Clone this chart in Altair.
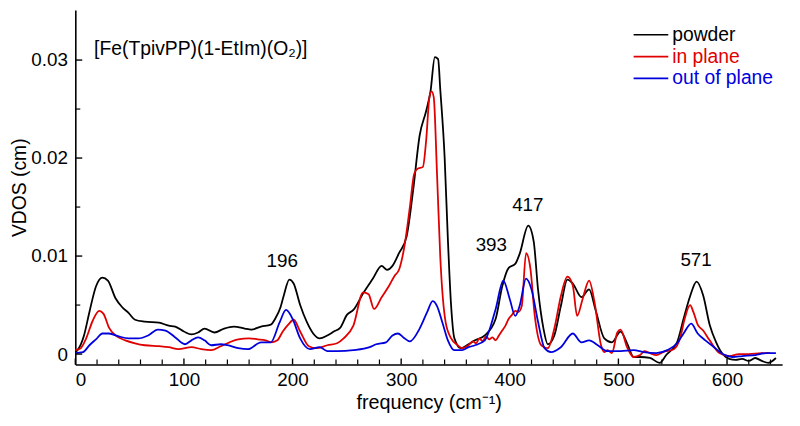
import altair as alt
import pandas as pd

# ---- data ----
powder_f = [0, 2, 8, 13, 19, 25, 30, 37, 43, 49, 55, 64, 77, 86, 92, 100, 107, 113, 119, 128,
            137, 146, 156, 162, 171, 180, 184, 189, 192, 197, 201, 207, 213, 219, 225, 232, 238,
            244, 250, 256, 265, 274, 282, 287, 292, 298, 305, 311, 317, 323, 327, 331, 334, 336,
            340, 343, 346, 349, 355, 362, 368, 377, 387, 393, 399, 405, 409, 417, 422, 426, 431,
            435, 441, 447, 453, 458, 466, 473, 479, 487, 494, 502, 508, 514, 520, 529, 538, 544,
            554, 560, 566, 572, 578, 584, 590, 596, 602, 608, 614, 620, 626, 632, 638, 645]
powder_v = [0.0002, 0.0004, 0.0019, 0.0043, 0.0069, 0.0078, 0.0075, 0.0057, 0.0048, 0.0042,
            0.0035, 0.0033, 0.0032, 0.0029, 0.0028, 0.0023, 0.0020, 0.0022, 0.0026, 0.0022,
            0.0026, 0.0028, 0.0026, 0.0025, 0.0028, 0.0030, 0.0036, 0.0048, 0.0060, 0.0076,
            0.0072, 0.0050, 0.0033, 0.0021, 0.0016, 0.0019, 0.0023, 0.0027, 0.0040, 0.0045,
            0.0062, 0.0077, 0.0090, 0.0086, 0.0090, 0.0103, 0.0120, 0.0167, 0.0223, 0.0248,
            0.0268, 0.0303, 0.0301, 0.0270, 0.0201, 0.0117, 0.0049, 0.0016, 0.0006, 0.0010,
            0.0014, 0.0019, 0.0036, 0.0069, 0.0088, 0.0092, 0.0102, 0.0131, 0.0115, 0.0066,
            0.0026, 0.0010, 0.0019, 0.0049, 0.0076, 0.0072, 0.0058, 0.0066, 0.0045, 0.0016,
            0.0012, 0.0023, 0.0011, -0.0003, -0.0003, -0.0004, -0.0009, -0.0001, 0.0012, 0.0036,
            0.0059, 0.0074, 0.0060, 0.0030, 0.0012, 0.0000, -0.0005, -0.0006, -0.0005, -0.0007,
            -0.0004, -0.0007, -0.0009, -0.0004]

inplane_f = [0, 5, 10, 16, 22, 26, 31, 37, 46, 55, 64, 77, 86, 95, 107, 116, 125, 134, 142, 150,
             160, 168, 175, 181, 186, 191, 196, 201, 207, 215, 222, 232, 241, 247, 256, 265, 270,
             275, 282, 289, 294, 298, 303, 308, 312, 315, 320, 323, 326, 328, 330, 333, 336, 341,
             346, 352, 356, 362, 366, 369, 372, 375, 378, 381, 384, 387, 390, 393, 396, 399, 402,
             405, 408, 411, 415, 419, 423,
             429, 435, 441, 447, 453, 458, 462, 467, 473, 478, 484, 487, 490, 494, 499, 502, 508,
             514, 520, 524, 529, 535, 541, 551, 557, 561, 566, 569, 573, 578, 584, 593, 602, 611,
             620, 632, 640]
inplane_v = [0.0004, 0.0006, 0.0016, 0.0034, 0.0044, 0.0041, 0.0027, 0.0019, 0.0014, 0.0011,
             0.0009, 0.0008, 0.0007, 0.0005, 0.0007, 0.0005, 0.0004, 0.0008, 0.0012, 0.0015,
             0.0016, 0.0015, 0.0014, 0.0012, 0.0014, 0.0023, 0.0030, 0.0035, 0.0023, 0.0008,
             0.0006, 0.0009, 0.0011, 0.0016, 0.0029, 0.0063, 0.0061, 0.0046, 0.0058, 0.0070,
             0.0080, 0.0086, 0.0110, 0.0150, 0.0184, 0.0189, 0.0191, 0.0218, 0.0262, 0.0268,
             0.0262, 0.0184, 0.0099, 0.0032, 0.0016, 0.0009, 0.0006, 0.0009, 0.0013, 0.0011,
             0.0016, 0.0013, 0.0018, 0.0015, 0.0017, 0.0014, 0.0019, 0.0024, 0.0029, 0.0036,
             0.0040, 0.0044, 0.0043, 0.0049, 0.0103, 0.0087,
             0.0039, 0.0009, 0.0006, 0.0026, 0.0059, 0.0079, 0.0070, 0.0039, 0.0056, 0.0075,
             0.0053, 0.0009, 0.0002, 0.0004, 0.0001, 0.0022, 0.0025, 0.0007, -0.0003, -0.0001,
             0.0003, 0.0001, -0.0001, 0.0002, 0.0005, 0.0017, 0.0036, 0.0050, 0.0043, 0.0030,
             0.0024, 0.0014, 0.0001, -0.0002, 0.0000, 0.0000, 0.0001, 0.0001]

outplane_f = [0, 7, 13, 19, 25, 31, 40, 49, 58, 67, 76, 83, 92, 101, 107, 113, 119, 125, 134,
              140, 150, 159, 171, 180, 188, 194, 200, 207, 216, 225, 232, 241, 256, 271, 277, 286,
              292, 297, 302, 308, 317, 324, 329, 333, 338, 343, 349, 356, 362, 368, 377, 387, 394,
              400, 405, 409, 415, 420, 426, 432, 438, 447, 458, 466, 473, 481, 490, 502, 514, 523,
              535, 545, 554, 560, 567, 573, 580, 587, 596, 605, 614, 626, 636, 645]
outplane_v = [0.0001, 0.0002, 0.0009, 0.0015, 0.0021, 0.0021, 0.0018, 0.0016, 0.0016, 0.0019,
              0.0025, 0.0024, 0.0017, 0.0010, 0.0014, 0.0017, 0.0014, 0.0009, 0.0010, 0.0009,
              0.0006, 0.0005, 0.0012, 0.0012, 0.0032, 0.0045, 0.0036, 0.0016, 0.0005, 0.0007,
              0.0003, 0.0003, 0.0004, 0.0007, 0.0010, 0.0012, 0.0019, 0.0021, 0.0017, 0.0013,
              0.0026, 0.0043, 0.0054, 0.0049, 0.0032, 0.0014, 0.0004, 0.0004, 0.0007, 0.0009,
              0.0014, 0.0046, 0.0075, 0.0056, 0.0039, 0.0049, 0.0077, 0.0066, 0.0033, 0.0006,
              0.0002, 0.0007, 0.0021, 0.0012, 0.0014, 0.0009, 0.0003, 0.0003, 0.0004, 0.0002,
              0.0001, 0.0004, 0.0011, 0.0021, 0.0031, 0.0021, 0.0014, 0.0008, 0.0000, -0.0003,
              -0.0002, -0.0001, 0.0001, 0.0001]

series_names = ["powder", "in plane", "out of plane"]
series_colors = ["#000000", "#e00000", "#0000dd"]

peak_labels = ["196", "393", "417", "571"]
peak_label_f = [190.5, 383, 416.6, 571.5]
peak_label_v = [0.00944, 0.01116, 0.0152, 0.00955]

title_text = ["[Fe(TpivPP)(1-EtIm)(O\u2082)]"]
title_f = [17.3]
title_v = [0.0311]

x_major = [0, 100, 200, 300, 400, 500, 600]
x_minor = [20, 40, 60, 80, 120, 140, 160, 180, 220, 240, 260, 280, 320, 340, 360, 380,
           420, 440, 460, 480, 520, 540, 560, 580, 620, 640]
y_major = [0, 0.01, 0.02, 0.03]
y_minor = [0.005, 0.015, 0.025]

# ---- build tables ----
rows = []
for name, fs, vs in [("powder", powder_f, powder_v),
                     ("in plane", inplane_f, inplane_v),
                     ("out of plane", outplane_f, outplane_v)]:
    for f, v in zip(fs, vs):
        rows.append({"freq": f, "vdos": v, "series": name})
df = pd.DataFrame(rows)

ann = pd.DataFrame({"label": peak_labels, "freq": peak_label_f, "vdos": peak_label_v})
ttl = pd.DataFrame({"label": title_text, "freq": title_f, "vdos": title_v})
leg = pd.DataFrame({"series": series_names})

W, H = 714, 358
FONT = "Liberation Sans"
xscale = alt.Scale(domain=[0, 650.7], nice=False, zero=False)
yscale = alt.Scale(domain=[-0.00106, 0.0351], nice=False, zero=False)
cscale = alt.Scale(domain=series_names, range=series_colors)

xaxis = alt.Axis(values=x_major, ticks=False, grid=False, labelFont=FONT,
                 labelFontSize=19, labelColor="black", labelPadding=6,
                 domainColor="black", domainWidth=1.6,
                 title="frequency (cm\u207b\u00b9)", titleFont=FONT, titleFontSize=20,
                 titleFontWeight="normal", titleColor="black", titleY=39,
                 titleBaseline="middle")
yaxis = alt.Axis(values=y_major, ticks=False, grid=False, labelFont=FONT,
                 labelFontSize=19, labelColor="black", labelPadding=8,
                 labelExpr="datum.value == 0 ? '0' : format(datum.value, '.2f')",
                 domainColor="black", domainWidth=1.6,
                 title="VDOS (cm)", titleFont=FONT, titleFontSize=19.5,
                 titleFontWeight="normal", titleColor="black", titleX=-56,
                 titleBaseline="middle")

lines = alt.Chart(df).mark_line(strokeWidth=1.8, interpolate="monotone").encode(
    x=alt.X("freq:Q", scale=xscale, axis=xaxis),
    y=alt.Y("vdos:Q", scale=yscale, axis=yaxis),
    color=alt.Color("series:N", scale=cscale, legend=None),
)

ann_layer = alt.Chart(ann).mark_text(font=FONT, fontSize=19, align="center",
                                     baseline="middle", color="black").encode(
    x=alt.X("freq:Q", scale=xscale, axis=xaxis),
    y=alt.Y("vdos:Q", scale=yscale, axis=yaxis),
    text="label:N",
)

title_layer = alt.Chart(ttl).mark_text(font=FONT, fontSize=19.5, align="left",
                                       baseline="middle", color="black").encode(
    x=alt.X("freq:Q", scale=xscale, axis=xaxis),
    y=alt.Y("vdos:Q", scale=yscale, axis=yaxis),
    text="label:N",
)

xmaj = alt.Chart(pd.DataFrame({"t": x_major})).mark_rule(color="black", strokeWidth=1.4).encode(
    x=alt.X("t:Q", scale=xscale, axis=xaxis), y=alt.value(H), y2=alt.value(H - 6))
xmin = alt.Chart(pd.DataFrame({"t": x_minor})).mark_rule(color="black", strokeWidth=1.2).encode(
    x=alt.X("t:Q", scale=xscale, axis=xaxis), y=alt.value(H), y2=alt.value(H - 5))
ymaj = alt.Chart(pd.DataFrame({"t": y_major})).mark_rule(color="black", strokeWidth=1.4).encode(
    y=alt.Y("t:Q", scale=yscale, axis=yaxis), x=alt.value(0), x2=alt.value(7))
ymin = alt.Chart(pd.DataFrame({"t": y_minor})).mark_rule(color="black", strokeWidth=1.2).encode(
    y=alt.Y("t:Q", scale=yscale, axis=yaxis), x=alt.value(0), x2=alt.value(5))

main = alt.layer(lines, xmaj, xmin, ymaj, ymin, ann_layer, title_layer)

# hand-built legend: rows placed by a point scale
leg_y = alt.Y("series:N", axis=None,
              scale=alt.Scale(type="point", domain=series_names, range=[25, 69], padding=0))
leg_line = alt.Chart(leg).mark_rule(strokeWidth=1.6).encode(
    y=leg_y, x=alt.value(564), x2=alt.value(599),
    color=alt.Color("series:N", scale=cscale, legend=None))
leg_text = alt.Chart(leg).mark_text(font=FONT, fontSize=19.5, align="left",
                                    baseline="middle").encode(
    y=leg_y, x=alt.value(603), text="series:N",
    color=alt.Color("series:N", scale=cscale, legend=None))
legend = alt.layer(leg_line, leg_text)

chart = alt.layer(main, legend).resolve_scale(y="independent").properties(
    width=W, height=H,
    padding={"left": 68, "top": 0, "right": 10, "bottom": 52},
    autosize=alt.AutoSizeParams(type="none"),
    background="white",
).configure_view(stroke=None)

chart.save("out.html", embed_options={"renderer": "svg", "actions": False})
